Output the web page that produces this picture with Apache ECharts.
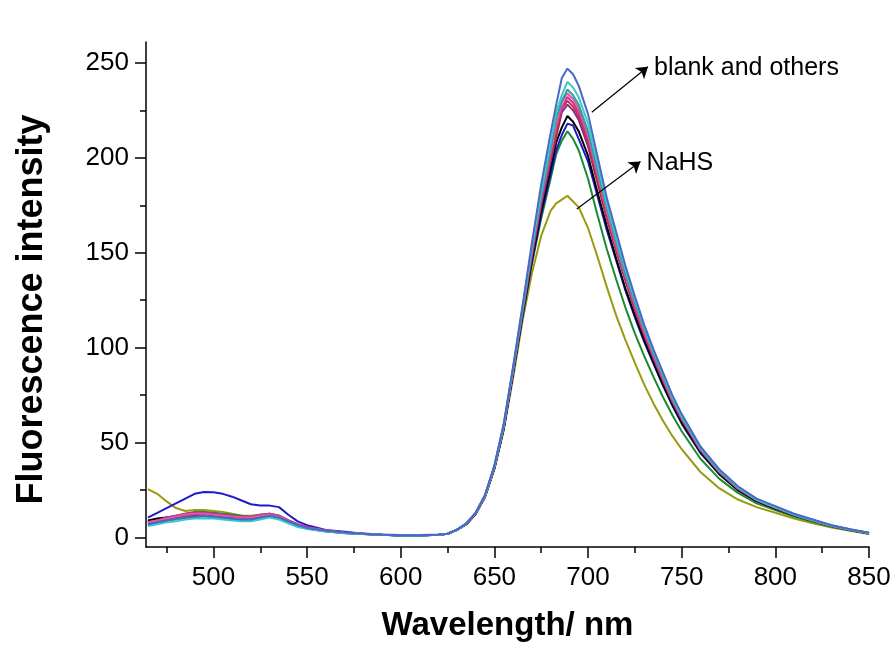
<!DOCTYPE html>
<html>
<head>
<meta charset="utf-8">
<script src="https://cdn.jsdelivr.net/npm/echarts@6/dist/echarts.min.js"></script>
<style>
  html, body { margin: 0; padding: 0; background: #fff; }
  #chart { width: 896px; height: 648px; }
</style>
</head>
<body>
<div id="chart"></div>
<script>
// wavelength grid (nm), shared by every spectrum
const wavelengths = [465,470,475,480,485,490,495,500,505,510,515,520,525,530,535,540,545,550,
    560,570,580,590,600,610,620,
    625,630,635,640,645,650,655,660,665,670,675,680,683,686,689,692,695,
    700,705,710,715,720,725,730,735,740,745,750,
    760,770,780,790,800,810,820,830,840,850];

const blankBlack = [9,10,10.5,11,11.5,12,12,11.5,11,10.5,10,10.5,11,11.5,10.5,8,6,4.8,
    3.3,2.4,1.8,1.4,1.1,1.1,1.4,
    2,4,7,12.5,21.5,36.5,57.5,87,117,146,172,194,208,216,222,219,214,
    201,182,164,147,131,117,104,92,80.5,70,60.5,
    45,33.5,25,19.2,15.3,11.7,8.8,6,4,2.2];
const redIon = [7.5,8.5,9.5,10.5,11.5,12.5,13,12.5,12,11,10.5,10.5,11.5,12,11,8.5,6.5,5,
    3.5,2.5,2,1.5,1.2,1.2,1.5,
    2,4,7.1,12.7,21.7,37,58.5,88,119,149,177,200,213,226,230,227,222,
    208,189,169,152,136,121,107,95,83,72,62.5,
    46,34.5,25.8,19.7,15.7,12,9,6.1,4,2.3];
const blueIon = [10.5,13,15.5,18,20.5,23,24,23.8,23,21.5,19.5,17.5,16.8,16.8,16,12,8.5,6.5,
    4,3,2,1.5,1,1,1.5,
    2,4,7,12.5,21.5,36.5,57.5,86.5,116.5,145,170,191,204,212,218,217,210,
    198,180,162,146,130,116,103,91.5,80,69.5,60,
    44.5,33.5,25,19.2,15.3,11.7,8.8,6,4,2.2];
const magentaIon = [8,9,10.5,11.5,12.5,13,13,12.5,12,11.5,11,11,12,12.5,11.5,9,7,5.5,
    3.8,2.7,2.1,1.6,1.3,1.3,1.6,
    2,4,7.2,12.8,21.8,37,58.5,88.5,119.5,150,178,201,217,226,232,229,224,
    210,191,171,153,137,122,108,95.5,84,72.5,63,
    46.5,35,26,20,16,12.2,9.2,6.3,4.2,2.4];
const nahs = [25.5,23,19,15.5,14,14.5,14.5,14,13.5,12.5,11.5,11.5,12,12.5,11.5,9,7,5.5,
    3.5,2.5,2,1.5,1.2,1.2,1.5,
    2,4,7,12.5,21.5,36,56.5,84,114,139,159,172,176,178,180,177,174,
    163,148,132,117,104,92,80.5,70.5,61.5,53.5,46.5,
    34.5,26,20,16,13,10,7.5,5.3,3.5,1.8];
const greenIon = [8.5,9.5,10.5,11.5,12.5,13.5,13.5,13,12.5,12,11.5,11,12,12.5,11.5,9,6.8,5.2,
    3.5,2.5,2,1.5,1.2,1.2,1.5,
    2,4,7,12.5,21.5,36.5,57.5,86.5,116,144,168,189,202,209,214,210,204,
    189,170,152,136,121,107.5,95.5,84.5,74,64.5,56,
    41.5,31,23.5,18,14.5,11,8.3,5.6,3.7,2];
const cyanIon = [6,7,8,8.5,9.5,10,10,10,9.5,9,8.5,8.5,9.5,10.5,9.5,7.5,5.5,4.5,
    3.2,2.3,1.8,1.4,1.1,1.1,1.4,
    2,4,7.5,13,22,37.5,59.5,89.5,121,153,182,208,224,233,240,237,232,
    218,197,176,158,141,125.5,111,98,86,74,64,
    47.5,35.5,26.5,20,16,12.2,9.2,6.3,4.2,2.4];
const purpleIon = [7.5,8.5,9.5,10.5,11,11.5,12,11.5,11,10.5,10,10,11,11.5,10.5,8,6.2,4.8,
    3.4,2.4,1.9,1.4,1.1,1.1,1.4,
    2,4,7.1,12.6,21.6,36.8,58,87.5,118,148,175,198,211,224,228,225,220,
    206,187,168,151,135,120,106.5,94,82.5,71.5,62,
    46,34.5,25.8,19.7,15.7,12,9,6.1,4,2.3];
const steelIon = [7,8,9,10,10.5,11,11.5,11,10.5,10,9.5,9.5,10.5,11.5,10.5,8.5,6.5,5,
    3.6,2.6,2,1.5,1.2,1.2,1.5,
    2,4,7.5,13,22.5,38,60,90,122,155,186,213,228,242,247,244,238,
    223,201,179,161,143,127,112,99,87,75,65,
    48,36,27,20.5,16.5,12.5,9.5,6.5,4.3,2.5];
const tealIon = [6.5,7.5,8.5,9.5,10,10.5,11,10.5,10,9.5,9,9,10,11,10,8,6,4.7,
    3.3,2.4,1.9,1.4,1.1,1.1,1.5,
    2,4,7.3,13,22,37.5,59,89,120,152,180,205,221,230,236,233,228,
    214,194,174,156,139,124,110,97,85,73.5,63.5,
    47,35,26.3,20,16,12,9,6.2,4.1,2.4];
const pinkIon = [8,9,10,11,12,12.5,12.5,12,11.5,11,10.5,10.5,11.5,12,11,8.5,6.5,5,
    3.5,2.5,2,1.5,1.2,1.2,1.5,
    2,4,7.2,12.8,22,37.5,59,89,120,151,179,203,217,229,234,231,226,
    212,192,172,154,137.5,122.5,108.5,96,84,72.5,63,
    46.5,34.8,26,19.8,15.8,12,9,6.2,4.1,2.3];

const spectra = [
    { name: 'NaHS', values: nahs, color: '#9a9a12' },
    { name: 'green', values: greenIon, color: '#1a8a2e' },
    { name: 'blue', values: blueIon, color: '#1c1cc8' },
    { name: 'blank', values: blankBlack, color: '#000000' },
    { name: 'purple', values: purpleIon, color: '#7a2a9a' },
    { name: 'red', values: redIon, color: '#d42a2a' },
    { name: 'magenta', values: magentaIon, color: '#c8329b' },
    { name: 'pink', values: pinkIon, color: '#e05a9a' },
    { name: 'teal', values: tealIon, color: '#2aa0a0' },
    { name: 'cyan', values: cyanIon, color: '#3cc8c8' },
    { name: 'steel', values: steelIon, color: '#4a68c8' }
];

const xMajor = [500,550,600,650,700,750,800,850];
const xMinor = [475,525,575,625,675,725,775,825];
const yMajor = [0,50,100,150,200,250];
const yMinor = [25,75,125,175,225];

const FONT = 'Liberation Sans, Arial, sans-serif';

const chart = echarts.init(document.getElementById('chart'));

const makeX = (ticks, isMain) => ({
    type: 'value',
    min: 464,
    max: 850,
    position: 'bottom',
    splitLine: { show: false },
    axisLine: { show: isMain, onZero: false, lineStyle: { color: '#000', width: 1.5 } },
    axisTick: { show: true, inside: false, length: isMain ? 11 : 6, customValues: ticks,
        lineStyle: { color: '#000', width: 1.5 } },
    axisLabel: { show: isMain, customValues: ticks, margin: 18, color: '#000',
        fontSize: 26, fontFamily: FONT },
    name: isMain ? 'Wavelength/ nm' : '',
    nameLocation: 'middle',
    nameGap: 62,
    nameTextStyle: { fontSize: 33, fontWeight: 'bold', color: '#000', fontFamily: FONT }
});

const makeY = (ticks, isMain) => ({
    type: 'value',
    min: -5,
    max: 261,
    position: 'left',
    splitLine: { show: false },
    axisLine: { show: isMain, onZero: false, lineStyle: { color: '#000', width: 1.5 } },
    axisTick: { show: true, inside: false, length: isMain ? 11 : 6, customValues: ticks,
        lineStyle: { color: '#000', width: 1.5 } },
    axisLabel: { show: isMain, customValues: ticks, margin: 17, color: '#000',
        fontSize: 26, fontFamily: FONT },
    name: isMain ? 'Fluorescence intensity' : '',
    nameLocation: 'middle',
    nameGap: 96,
    nameTextStyle: { fontSize: 36, fontWeight: 'bold', color: '#000', fontFamily: FONT,
        padding: [0, 30, 0, 0] }
});

const series = spectra.map(s => ({
    name: s.name,
    type: 'line',
    data: wavelengths.map((w, i) => [w, s.values[i]]),
    showSymbol: false,
    symbol: 'none',
    lineStyle: { color: s.color, width: 2 },
    itemStyle: { color: s.color },
    animation: false
}));

// arrows and their captions
series.push({
    name: 'notes',
    type: 'line',
    data: [],
    animation: false,
    markLine: {
        silent: true,
        symbol: ['none', 'arrow'],
        symbolSize: 11,
        label: { show: false },
        lineStyle: { color: '#000', width: 1.2, type: 'solid' },
        data: [
            [{ coord: [702, 224] }, { coord: [732, 248] }],
            [{ coord: [694, 173] }, { coord: [728, 198] }]
        ],
        animation: false
    },
    markPoint: {
        silent: true,
        symbol: 'circle',
        symbolSize: 1,
        itemStyle: { color: 'rgba(0,0,0,0)' },
        label: {
            show: true,
            position: 'right',
            distance: 0,
            color: '#000',
            fontSize: 25,
            fontFamily: FONT,
            formatter: p => p.name
        },
        data: [
            { name: 'blank and others', coord: [735, 247] },
            { name: 'NaHS', coord: [731, 197] }
        ],
        animation: false
    }
});

chart.setOption({
    backgroundColor: '#fff',
    animation: false,
    grid: { left: 146, right: 27, top: 42, bottom: 101, containLabel: false, outerBoundsMode: 'none' },
    xAxis: [makeX(xMajor, true), makeX(xMinor, false)],
    yAxis: [makeY(yMajor, true), makeY(yMinor, false)],
    series: series
});
</script>
</body>
</html>
